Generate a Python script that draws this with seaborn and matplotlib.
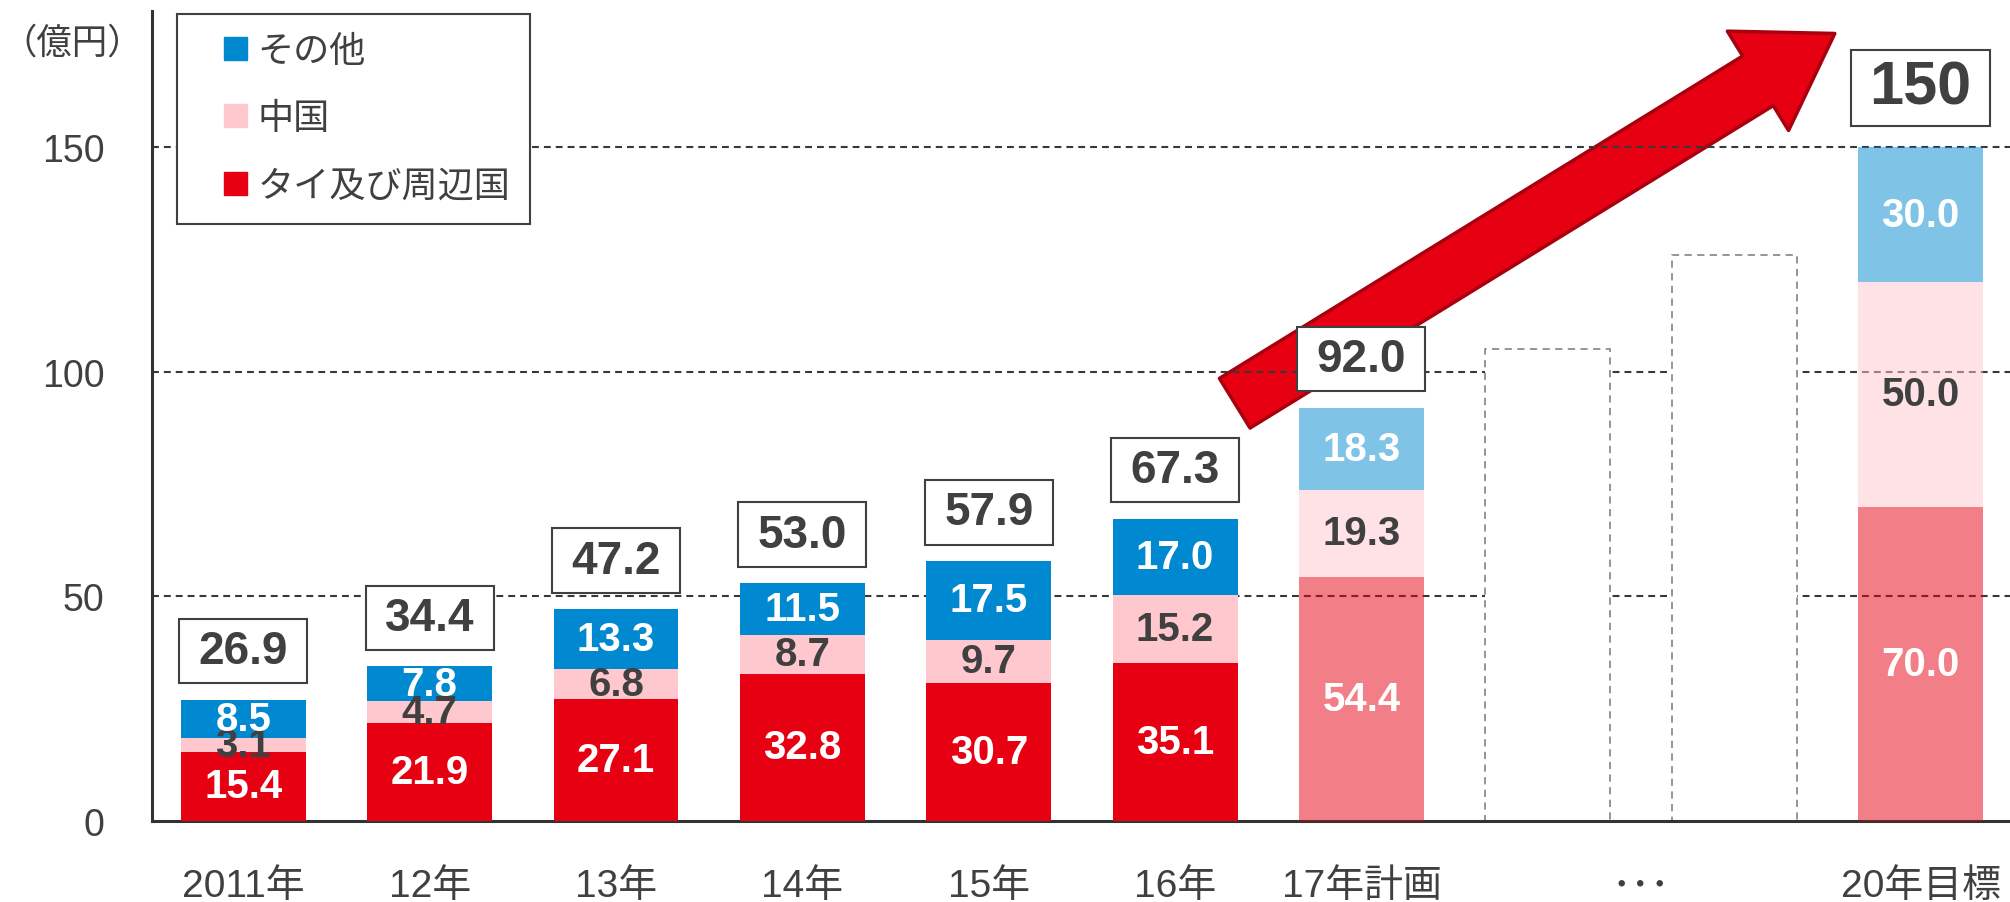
import numpy as np
import pandas as pd
import matplotlib
matplotlib.use("Agg")
import matplotlib.pyplot as plt
import matplotlib.patches as mpatches
from matplotlib.path import Path
from matplotlib.legend_handler import HandlerPatch
import seaborn as sns

# data (億円)
years = ["2011年", "12年", "13年", "14年", "15年", "16年", "17年計画", "20年目標"]
thai = [15.4, 21.9, 27.1, 32.8, 30.7, 35.1, 54.4, 70.0]
china = [3.1, 4.7, 6.8, 8.7, 9.7, 15.2, 19.3, 50.0]
other = [8.5, 7.8, 13.3, 11.5, 17.5, 17.0, 18.3, 30.0]
total_labels = ["26.9", "34.4", "47.2", "53.0", "57.9", "67.3", "92.0", "150"]
is_plan = [False, False, False, False, False, False, True, True]
gap_heights = [105, 126]          # empty placeholder bars between 17 and 20
gap_label = "･･･"
series_names = ["タイ及び周辺国", "中国", "その他"]
yticks = [0, 50, 100, 150]

RED, PINK, BLUE = "#E60012", "#FFC7CE", "#0088D0"
TXT = "#404040"


def right_square(legend, orig_handle, xdescent, ydescent, width, height, fontsize):
    # square handle pushed to the right end of the handle box
    return mpatches.Rectangle((width - height - xdescent, -ydescent), height, height)


def square_box(padx, pady):
    # plain rectangle with separate x / y padding (fractions of font size)
    def box(x0, y0, width, height, mutation_size):
        px, py = padx * mutation_size, pady * mutation_size
        x0, y0 = x0 - px, y0 - py
        x1, y1 = x0 + width + 2 * px, y0 + height + 2 * py
        return Path([(x0, y0), (x1, y0), (x1, y1), (x0, y1), (x0, y0)], closed=True)
    return box


sns.set_theme(style="white")
plt.rcParams["font.family"] = ["Liberation Sans", "Noto Sans CJK JP"]

fig = plt.figure(figsize=(20.1, 9.03), dpi=100)
ax = fig.add_axes([152 / 2010, 81 / 903, 1858 / 2010, 810 / 903])

pos = list(range(7)) + [9]
gap_pos = [7, 8]
df = pd.DataFrame({"pos": pos, "thai": thai, "china": china, "other": other})
bottoms = {
    "thai": np.zeros(len(pos)),
    "china": np.array(thai),
    "other": np.array(thai) + np.array(china),
}
colors = {"thai": RED, "china": PINK, "other": BLUE}

for col in ["thai", "china", "other"]:
    n0 = len(ax.patches)
    sns.barplot(data=df, x="pos", y=col, native_scale=True, width=0.67,
                color=colors[col], saturation=1, errorbar=None, linewidth=0,
                bottom=bottoms[col], ax=ax, zorder=3)
    for bar, plan in zip(ax.patches[n0:], is_plan):
        if plan:
            bar.set_alpha(0.5)

# placeholder outline bars
sns.barplot(x=gap_pos, y=gap_heights, native_scale=True, width=0.67,
            color="white", saturation=1, errorbar=None, edgecolor="#8c8c8c",
            linewidth=1.3, linestyle=(0, (4, 3)), ax=ax, zorder=2.2)

# segment values
for i, p in enumerate(pos):
    for col in ["thai", "china", "other"]:
        v = df[col].iloc[i]
        ax.text(p, bottoms[col][i] + v / 2, f"{v:.1f}", ha="center", va="center",
                fontsize=29, fontweight="bold",
                color=TXT if col == "china" else "white", zorder=4)

# totals in boxes
tops = bottoms["other"] + np.array(other)
for i, p in enumerate(pos):
    last = i == len(pos) - 1
    ax.annotate(total_labels[i], xy=(p, tops[i]),
                xytext=(0, 22 if last else 19), textcoords="offset points",
                ha="center", va="bottom", fontsize=44 if last else 33,
                fontweight="bold", color=TXT, zorder=5,
                bbox=dict(boxstyle=square_box(0.3, 0.15) if last else square_box(0.42, 0.22),
                          fc="white", ec=TXT, lw=1.5))

# gridlines
for y in yticks[1:]:
    ax.axhline(y, color="#383838", lw=1.5, ls=(0, (3.3, 2.4)), zorder=2)

# growth arrow
ax.annotate("", xy=(8.54, 175.3), xytext=(5.32, 93.0), zorder=1.5,
            arrowprops=dict(arrowstyle="simple,head_length=65,head_width=84,tail_width=42",
                            mutation_scale=1, fc=RED, ec="#A8000F", lw=2.5,
                            shrinkA=0, shrinkB=0))

ax.set_xlim(-0.49, 9.48)
ax.set_ylim(0, 180.3)
ax.set_yticks(yticks)
ax.set_xticks(pos[:7] + [7.5, 9])
ax.set_xticklabels(years[:7] + [gap_label, years[7]])
ax.set_xlabel("")
ax.set_ylabel("")
ax.tick_params(axis="both", length=0, labelsize=27, labelcolor=TXT)
ax.tick_params(axis="x", pad=34, labelsize=28)
ax.tick_params(axis="y", pad=34)
sns.despine(ax=ax)
for s in ["left", "bottom"]:
    ax.spines[s].set_color("#333333")
    ax.spines[s].set_linewidth(2.2)

fig.text(72 / 2010, 1 - 44 / 903, "（億円）", ha="center", va="center",
         fontsize=25.5, color=TXT)

handles = [mpatches.Patch(color=BLUE), mpatches.Patch(color=PINK), mpatches.Patch(color=RED)]
leg = ax.legend(handles, series_names[::-1], loc="upper left",
                bbox_to_anchor=(25 / 1858, 1 - 3 / 810), borderaxespad=0,
                fontsize=26, handlelength=1.38, handleheight=0.6, handletextpad=0.3,
                labelspacing=0.9, borderpad=0.55, frameon=True, fancybox=False,
                edgecolor=TXT, framealpha=1, labelcolor=TXT,
                handler_map={mpatches.Patch: HandlerPatch(patch_func=right_square)})
leg.get_frame().set_linewidth(1.5)
leg.set_zorder(6)

fig.savefig("out.png", dpi=100)
